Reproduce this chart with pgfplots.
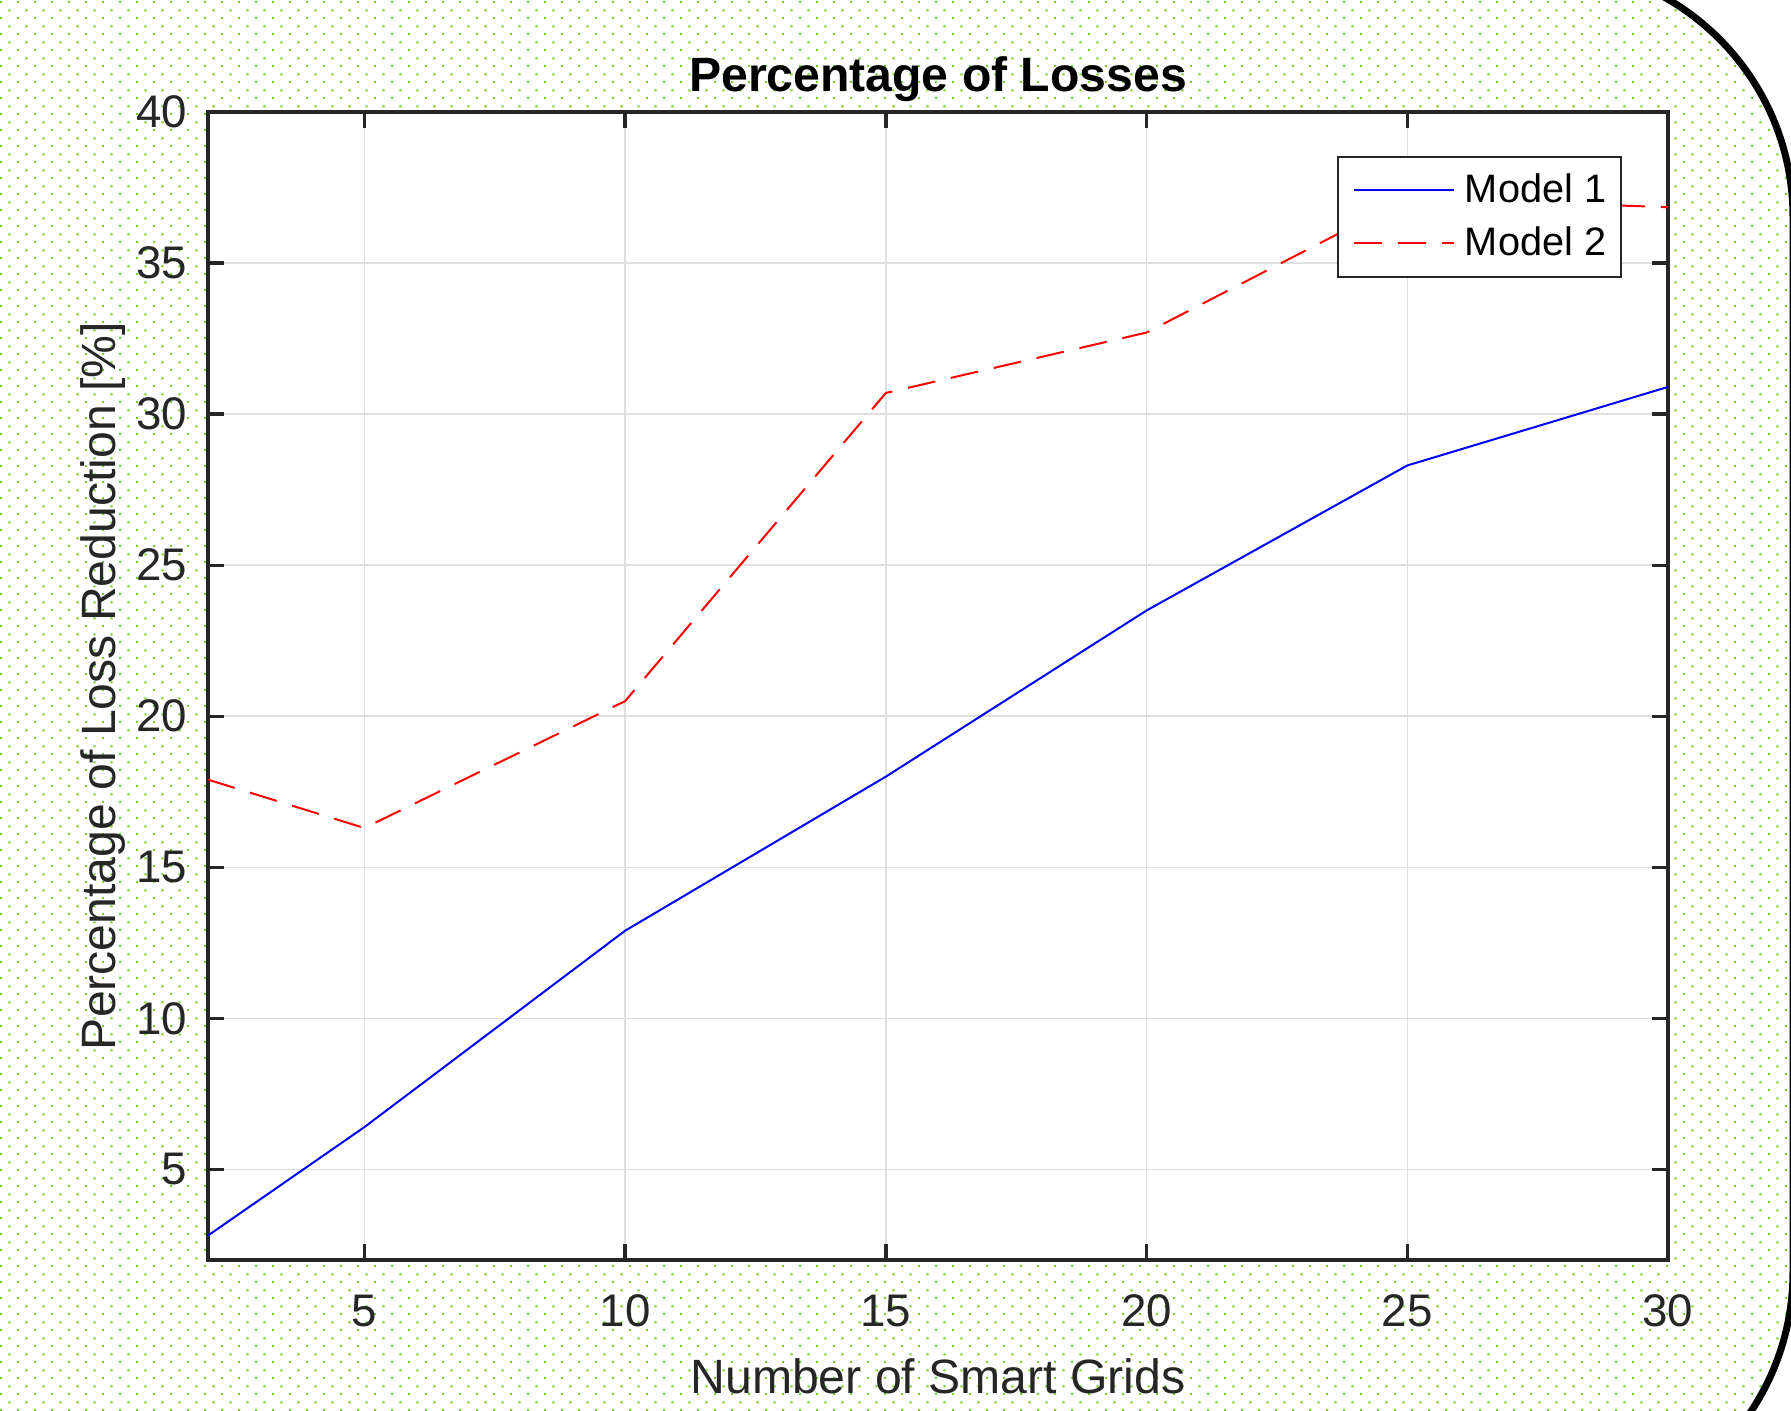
\documentclass[border=0pt]{standalone}
\usepackage{fontspec}
\setmainfont{Liberation Sans}
\usepackage{pgfplots}
\pgfplotsset{compat=1.18}
\usetikzlibrary{patterns}

\pgfdeclarepatternformonly{greendots}{\pgfpointorigin}{\pgfpoint{1.7mm}{1.6mm}}{\pgfpoint{1.7mm}{1.6mm}}{%
  \pgfpathrectangle{\pgfpoint{0mm}{0mm}}{\pgfpoint{0.21mm}{0.21mm}}%
  \pgfpathrectangle{\pgfpoint{0.85mm}{0.8mm}}{\pgfpoint{0.21mm}{0.21mm}}%
  \pgfusepath{fill}}

\definecolor{dotgreen}{RGB}{115,210,40}
\definecolor{axgray}{RGB}{38,38,38}
\definecolor{gridgray}{RGB}{223,223,223}

\begin{document}
\begin{tikzpicture}
\useasboundingbox (0,0) rectangle (179.1mm,141mm);
\begin{scope}
  \clip (0,0) rectangle (179.1mm,141mm);
  \fill[white] (0,0) rectangle (179.1mm,141mm);
  \path[pattern=greendots, pattern color=dotgreen, rounded corners=25.2mm] (-40mm,-11.4mm) rectangle (179.3mm,144.5mm);
  \draw[line width=0.7mm, rounded corners=25.2mm] (-40mm,-11.4mm) rectangle (179.3mm,144.5mm);
\end{scope}

\begin{axis}[
  at={(20.8mm,15.0mm)}, anchor=south west,
  scale only axis, width=146.0mm, height=114.8mm,
  xmin=2, xmax=30, ymin=2, ymax=40,
  xtick={5,10,...,30}, ytick={5,10,...,40},
  axis background/.style={fill=white},
  axis line style={axgray, line width=0.33mm},
  tick style={axgray, line width=0.33mm},
  tick align=inside, major tick length=1.6mm,
  grid=major, major grid style={gridgray, line width=0.15mm},
  /pgf/number format/assume math mode=true,
  tick label style={font=\fontsize{13}{13}\selectfont, text=axgray, inner sep=0pt},
  xticklabel style={anchor=base, yshift=-6.6mm},
  yticklabel style={anchor=east, xshift=-2mm},
  title={Percentage of Losses},
  title style={at={(0.5,1)}, anchor=base, yshift=-0.08mm, font=\bfseries\fontsize{13.7}{13.7}\selectfont, inner sep=0pt},
  xlabel={Number of Smart Grids},
  xlabel style={at={(0.5,0)}, anchor=base, yshift=-13.3mm, font=\fontsize{13.7}{13.7}\selectfont, text=axgray, inner sep=0pt},
  ylabel={Percentage of Loss Reduction [\%]},
  ylabel style={at={(0,0.5)}, anchor=base, yshift=9.3mm, font=\fontsize{13.7}{13.7}\selectfont, text=axgray, inner sep=0pt},
  legend cell align=left,
  legend image code/.code={\draw[#1] (0mm,0mm) -- (10mm,0mm);},
  legend style={at={(1,1)}, anchor=north east, xshift=-4.6mm, yshift=-4.4mm,
    draw=axgray, line width=0.15mm, fill=white,
    font=\fontsize{11.3}{11.3}\selectfont,
    inner xsep=1.5mm, inner ysep=1.65mm,
    nodes={inner sep=0pt, text=black},
    row sep=1.9mm, column sep=1mm},
]
\addplot[blue, line width=0.2mm] coordinates {
  (2,2.81) (5,6.4) (10,12.9) (15,18.0) (20,23.5) (25,28.3) (30,30.9)
};
\addlegendentry{Model 1}
\addplot[red, line width=0.2mm, dash pattern=on 2.8mm off 1.6mm] coordinates {
  (2,17.9) (5,16.3) (10,20.5) (15,30.7) (20,32.7) (25,37.15) (30,36.85)
};
\addlegendentry{Model 2}
\end{axis}
\end{tikzpicture}
\end{document}
